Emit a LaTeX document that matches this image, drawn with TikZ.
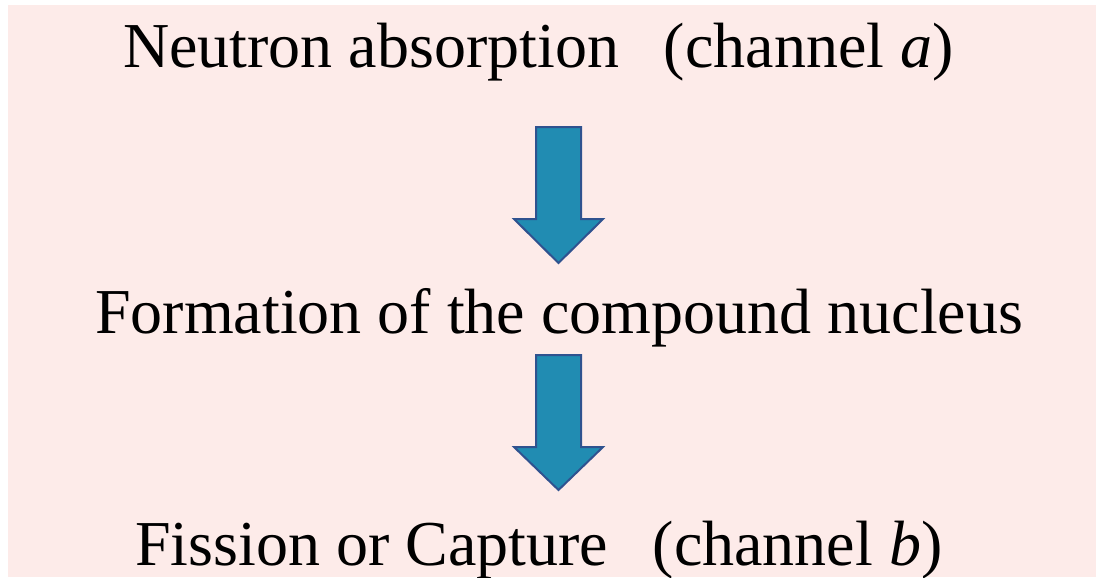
\documentclass[tikz,border=0pt]{standalone}
\usepackage{fontspec}
\setmainfont{Liberation Serif}
\definecolor{bgpink}{RGB}{253,235,233}
\definecolor{arrowfill}{RGB}{33,140,178}
\definecolor{arrowedge}{RGB}{47,82,143}
\tikzset{
  label text/.style={anchor=base west, inner sep=0pt, font=\fontsize{64}{70}\selectfont},
  block arrow/.style={fill=arrowfill, draw=arrowedge, line width=2pt, line join=miter}
}
\begin{document}
\begin{tikzpicture}[x=1pt,y=-1pt]
\useasboundingbox (0,0) rectangle (1096,578);
\fill[bgpink] (8,5) rectangle (1096,577);
\node[label text] (absorb) at (123,68) {Neutron absorption\hspace{0.7em}(channel \textit{a})};
\node[label text] (compound) at (95,333) {Formation of the compound nucleus};
\node[label text] (fission) at (135,565) {Fission or Capture\hspace{0.7em}(channel \textit{b})};
% block arrows
\coordinate (a1) at (558.5,127);
\draw[block arrow] (536,127) -- (581,127) -- (581,219) -- (603,219) -- (558.5,263) -- (514,219) -- (536,219) -- cycle;
\coordinate (a2) at (558.5,355);
\draw[block arrow] (536,355) -- (581,355) -- (581,447) -- (603,447) -- (558.5,490) -- (514,447) -- (536,447) -- cycle;
\end{tikzpicture}
\end{document}
